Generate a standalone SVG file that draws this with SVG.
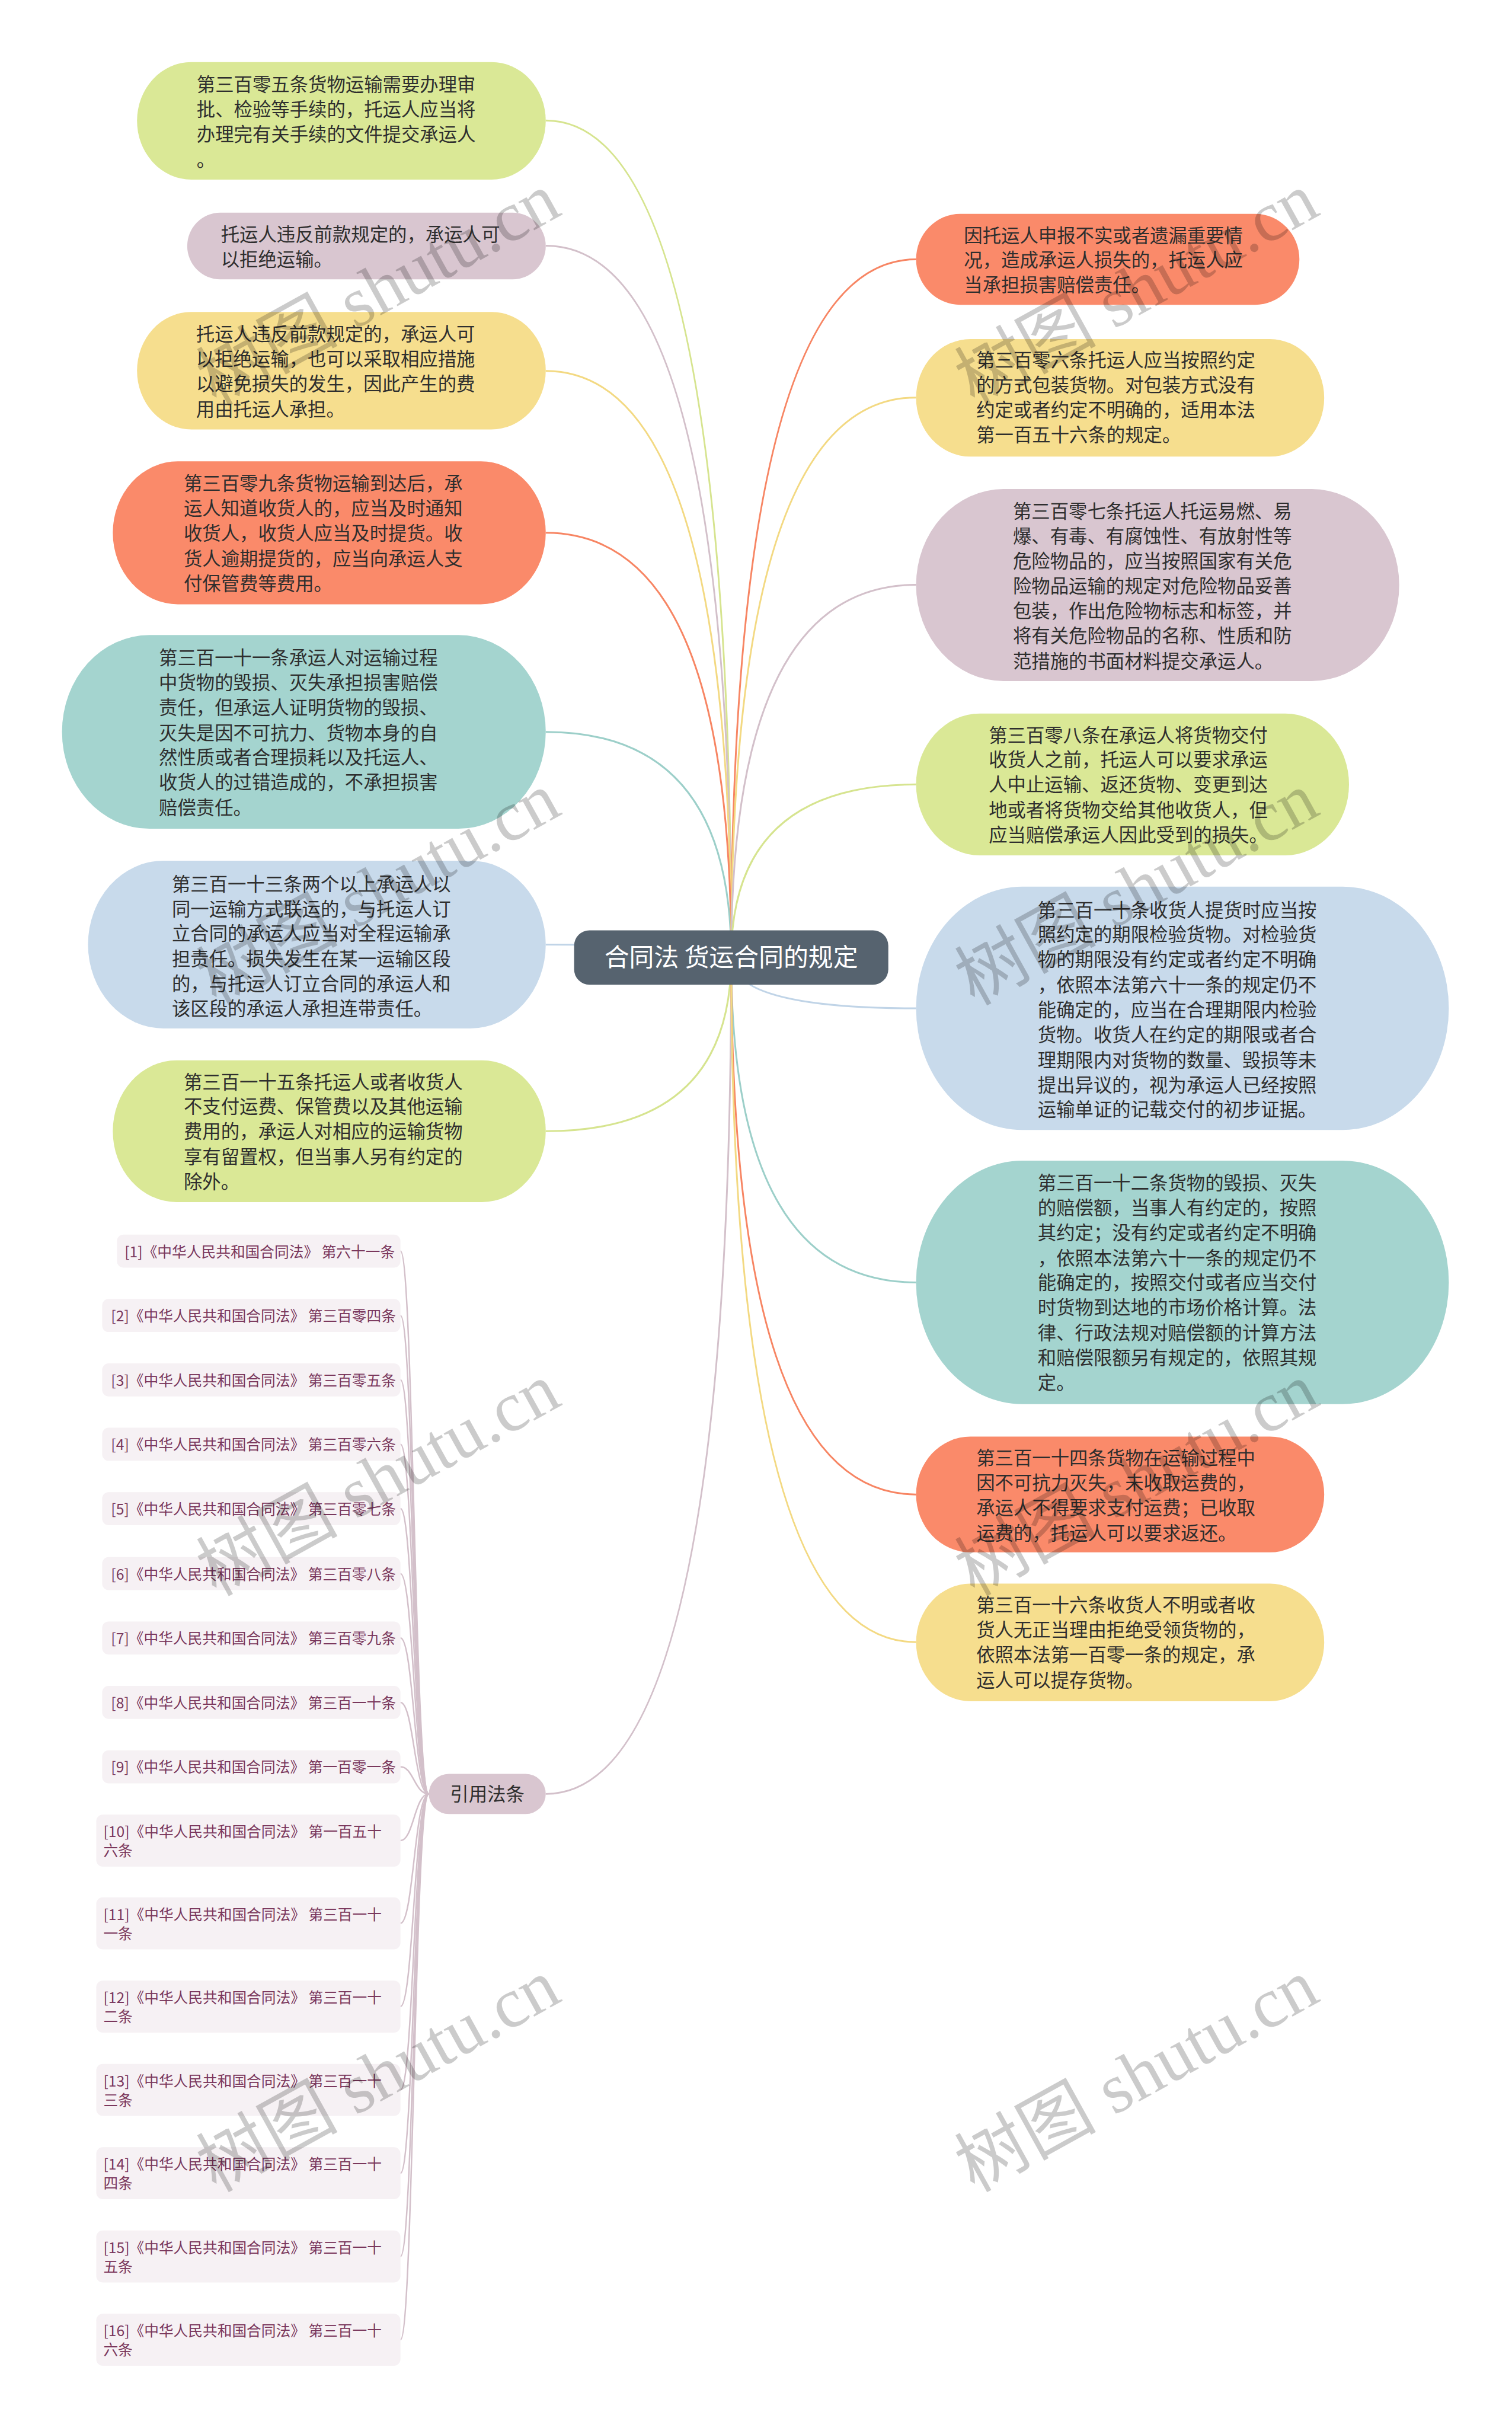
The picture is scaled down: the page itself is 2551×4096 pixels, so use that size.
<svg xmlns="http://www.w3.org/2000/svg" width="2551" height="4096" viewBox="0 0 2551 4096">
<style>
.t{font-family:"Noto Sans CJK SC","Noto Sans",sans-serif;font-size:31.5px;fill:#2e2e2e}
.r{font-family:"Noto Sans CJK SC","Noto Sans",sans-serif;font-size:24.8px;fill:#7a375c}
.c{font-family:"Noto Sans CJK SC","Noto Sans",sans-serif;font-size:42px;fill:#ffffff}
.ln{fill:none;stroke-width:3}
.green{fill:#dae896}.purple{fill:#d9c6d0}.yellow{fill:#f6de8e}.orange{fill:#fa8a6a}.teal{fill:#a4d4cf}.blue{fill:#c8daeb}
.sg{stroke:#d6e48f}.sp{stroke:#d3c0ca}.sy{stroke:#f3d982}.so{stroke:#f78563}.st{stroke:#9ccfc9}.sb{stroke:#c0d4e7}
.refbox{fill:#f6f1f4}
.wm{font-family:"Liberation Serif","Noto Sans CJK SC",serif;font-size:120px;fill:#000;opacity:0.2}
</style>
<g transform="scale(0.9965)">
<rect x="0" y="0" width="2560" height="4110" fill="#ffffff"/>
<g id="connectors">
<path class="ln sg" d="M1238 1621 Q1238 204 924 204"/>
<path class="ln sp" d="M1238 1621 Q1238 416 924 416"/>
<path class="ln sy" d="M1238 1621 Q1238 628 924 628"/>
<path class="ln so" d="M1238 1621 Q1238 902 924 902"/>
<path class="ln st" d="M1238 1621 Q1238 1239 924 1239"/>
<path class="ln sb" d="M1238 1621 Q1238 1599 924 1599"/>
<path class="ln sg" d="M1238 1621 Q1238 1915 924 1915"/>
<path class="ln sp" d="M1238 1621 Q1238 3037 924 3037"/>
<path class="ln so" d="M1238 1621 Q1238 439 1551 439"/>
<path class="ln sy" d="M1238 1621 Q1238 673 1551 673"/>
<path class="ln sp" d="M1238 1621 Q1238 990 1551 990"/>
<path class="ln sg" d="M1238 1621 Q1238 1328 1551 1328"/>
<path class="ln sb" d="M1238 1621 Q1238 1707 1551 1707"/>
<path class="ln st" d="M1238 1621 Q1238 2171 1551 2171"/>
<path class="ln so" d="M1238 1621 Q1238 2530 1551 2530"/>
<path class="ln sy" d="M1238 1621 Q1238 2780 1551 2780"/>
<g class="sp" fill="none" stroke-width="2.5">
<path d="M678 2118 C700 2118 702 3037 726 3037"/>
<path d="M678 2227 C700 2227 702 3037 726 3037"/>
<path d="M678 2336 C700 2336 702 3037 726 3037"/>
<path d="M678 2445 C700 2445 702 3037 726 3037"/>
<path d="M678 2554 C700 2554 702 3037 726 3037"/>
<path d="M678 2664 C700 2664 702 3037 726 3037"/>
<path d="M678 2773 C700 2773 702 3037 726 3037"/>
<path d="M678 2882 C700 2882 702 3037 726 3037"/>
<path d="M678 2991 C700 2991 702 3037 726 3037"/>
<path d="M678 3116 C700 3116 702 3037 726 3037"/>
<path d="M678 3256 C700 3256 702 3037 726 3037"/>
<path d="M678 3397 C700 3397 702 3037 726 3037"/>
<path d="M678 3538 C700 3538 702 3037 726 3037"/>
<path d="M678 3679 C700 3679 702 3037 726 3037"/>
<path d="M678 3820 C700 3820 702 3037 726 3037"/>
<path d="M678 3961 C700 3961 702 3037 726 3037"/>
</g>
</g>

<g id="center">
<rect x="972" y="1575" width="532" height="92" rx="26" fill="#56636f"/>
<text class="c" x="1238" y="1636" text-anchor="middle">合同法 货运合同的规定</text>
</g>

<g id="n1">
<rect class="green" x="232" y="105" width="692" height="199" rx="92" ry="99.5"/>
<text class="t"><tspan x="333" y="155">第三百零五条货物运输需要办理审</tspan><tspan x="333" y="197">批、检验等手续的，托运人应当将</tspan><tspan x="333" y="239">办理完有关手续的文件提交承运人</tspan><tspan x="333" y="282">。</tspan></text>
</g>
<g id="n2">
<rect class="purple" x="317" y="360" width="607" height="113" rx="56" ry="56.5"/>
<text class="t"><tspan x="374" y="408">托运人违反前款规定的，承运人可</tspan><tspan x="374" y="451">以拒绝运输。</tspan></text>
</g>
<g id="n3">
<rect class="yellow" x="232" y="528" width="692" height="199" rx="92" ry="99.5"/>
<text class="t"><tspan x="332" y="577">托运人违反前款规定的，承运人可</tspan><tspan x="332" y="619">以拒绝运输，也可以采取相应措施</tspan><tspan x="332" y="661">以避免损失的发生，因此产生的费</tspan><tspan x="332" y="704">用由托运人承担。</tspan></text>
</g>
<g id="n4">
<rect class="orange" x="191" y="781" width="733" height="242" rx="110" ry="121"/>
<text class="t"><tspan x="311" y="830">第三百零九条货物运输到达后，承</tspan><tspan x="311" y="872">运人知道收货人的，应当及时通知</tspan><tspan x="311" y="914">收货人，收货人应当及时提货。收</tspan><tspan x="311" y="957">货人逾期提货的，应当向承运人支</tspan><tspan x="311" y="999">付保管费等费用。</tspan></text>
</g>
<g id="n5">
<rect class="teal" x="105" y="1075" width="819" height="328" rx="148" ry="164"/>
<text class="t"><tspan x="269" y="1125">第三百一十一条承运人对运输过程</tspan><tspan x="269" y="1167">中货物的毁损、灭失承担损害赔偿</tspan><tspan x="269" y="1209">责任，但承运人证明货物的毁损、</tspan><tspan x="269" y="1252">灭失是因不可抗力、货物本身的自</tspan><tspan x="269" y="1294">然性质或者合理损耗以及托运人、</tspan><tspan x="269" y="1336">收货人的过错造成的，不承担损害</tspan><tspan x="269" y="1379">赔偿责任。</tspan></text>
</g>
<g id="n6">
<rect class="blue" x="149" y="1457" width="775" height="284" rx="128" ry="142"/>
<text class="t"><tspan x="291" y="1508">第三百一十三条两个以上承运人以</tspan><tspan x="291" y="1550">同一运输方式联运的，与托运人订</tspan><tspan x="291" y="1592">立合同的承运人应当对全程运输承</tspan><tspan x="291" y="1635">担责任。损失发生在某一运输区段</tspan><tspan x="291" y="1677">的，与托运人订立合同的承运人和</tspan><tspan x="291" y="1719">该区段的承运人承担连带责任。</tspan></text>
</g>
<g id="n7">
<rect class="green" x="191" y="1795" width="733" height="240" rx="108" ry="120"/>
<text class="t"><tspan x="311" y="1843">第三百一十五条托运人或者收货人</tspan><tspan x="311" y="1885">不支付运费、保管费以及其他运输</tspan><tspan x="311" y="1927">费用的，承运人对相应的运输货物</tspan><tspan x="311" y="1970">享有留置权，但当事人另有约定的</tspan><tspan x="311" y="2012">除外。</tspan></text>
</g>

<g id="r1">
<rect class="orange" x="1551" y="362" width="649" height="154" rx="75" ry="77"/>
<text class="t"><tspan x="1632" y="410">因托运人申报不实或者遗漏重要情</tspan><tspan x="1632" y="452">况，造成承运人损失的，托运人应</tspan><tspan x="1632" y="494">当承担损害赔偿责任。</tspan></text>
</g>
<g id="r2">
<rect class="yellow" x="1551" y="574" width="691" height="199" rx="92" ry="99.5"/>
<text class="t"><tspan x="1653" y="621">第三百零六条托运人应当按照约定</tspan><tspan x="1653" y="663">的方式包装货物。对包装方式没有</tspan><tspan x="1653" y="705">约定或者约定不明确的，适用本法</tspan><tspan x="1653" y="748">第一百五十六条的规定。</tspan></text>
</g>
<g id="r3">
<rect class="purple" x="1551" y="828" width="818" height="325" rx="148" ry="162.5"/>
<text class="t"><tspan x="1715" y="877">第三百零七条托运人托运易燃、易</tspan><tspan x="1715" y="919">爆、有毒、有腐蚀性、有放射性等</tspan><tspan x="1715" y="961">危险物品的，应当按照国家有关危</tspan><tspan x="1715" y="1004">险物品运输的规定对危险物品妥善</tspan><tspan x="1715" y="1046">包装，作出危险物标志和标签，并</tspan><tspan x="1715" y="1088">将有关危险物品的名称、性质和防</tspan><tspan x="1715" y="1131">范措施的书面材料提交承运人。</tspan></text>
</g>
<g id="r4">
<rect class="green" x="1551" y="1208" width="733" height="240" rx="108" ry="120"/>
<text class="t"><tspan x="1674" y="1256">第三百零八条在承运人将货物交付</tspan><tspan x="1674" y="1298">收货人之前，托运人可以要求承运</tspan><tspan x="1674" y="1340">人中止运输、返还货物、变更到达</tspan><tspan x="1674" y="1383">地或者将货物交给其他收货人，但</tspan><tspan x="1674" y="1425">应当赔偿承运人因此受到的损失。</tspan></text>
</g>
<g id="r5">
<rect class="blue" x="1551" y="1501" width="902" height="412" rx="180" ry="206"/>
<text class="t"><tspan x="1757" y="1552">第三百一十条收货人提货时应当按</tspan><tspan x="1757" y="1594">照约定的期限检验货物。对检验货</tspan><tspan x="1757" y="1636">物的期限没有约定或者约定不明确</tspan><tspan x="1757" y="1679">，依照本法第六十一条的规定仍不</tspan><tspan x="1757" y="1721">能确定的，应当在合理期限内检验</tspan><tspan x="1757" y="1763">货物。收货人在约定的期限或者合</tspan><tspan x="1757" y="1806">理期限内对货物的数量、毁损等未</tspan><tspan x="1757" y="1848">提出异议的，视为承运人已经按照</tspan><tspan x="1757" y="1890">运输单证的记载交付的初步证据。</tspan></text>
</g>
<g id="r6">
<rect class="teal" x="1551" y="1965" width="902" height="412" rx="180" ry="206"/>
<text class="t"><tspan x="1757" y="2014">第三百一十二条货物的毁损、灭失</tspan><tspan x="1757" y="2056">的赔偿额，当事人有约定的，按照</tspan><tspan x="1757" y="2098">其约定；没有约定或者约定不明确</tspan><tspan x="1757" y="2141">，依照本法第六十一条的规定仍不</tspan><tspan x="1757" y="2183">能确定的，按照交付或者应当交付</tspan><tspan x="1757" y="2225">时货物到达地的市场价格计算。法</tspan><tspan x="1757" y="2268">律、行政法规对赔偿额的计算方法</tspan><tspan x="1757" y="2310">和赔偿限额另有规定的，依照其规</tspan><tspan x="1757" y="2352">定。</tspan></text>
</g>
<g id="r7">
<rect class="orange" x="1551" y="2432" width="691" height="196" rx="92" ry="98"/>
<text class="t"><tspan x="1653" y="2480">第三百一十四条货物在运输过程中</tspan><tspan x="1653" y="2522">因不可抗力灭失，未收取运费的，</tspan><tspan x="1653" y="2564">承运人不得要求支付运费；已收取</tspan><tspan x="1653" y="2607">运费的，托运人可以要求返还。</tspan></text>
</g>
<g id="r8">
<rect class="yellow" x="1551" y="2681" width="691" height="199" rx="92" ry="99.5"/>
<text class="t"><tspan x="1653" y="2729">第三百一十六条收货人不明或者收</tspan><tspan x="1653" y="2771">货人无正当理由拒绝受领货物的，</tspan><tspan x="1653" y="2813">依照本法第一百零一条的规定，承</tspan><tspan x="1653" y="2856">运人可以提存货物。</tspan></text>
</g>

<g id="refs-title">
<rect class="purple" x="726" y="3003" width="198" height="68" rx="34"/>
<text class="t" x="825" y="3049" text-anchor="middle">引用法条</text>
</g>

<g id="ref1"><rect class="refbox" x="198" y="2090" width="480" height="56" rx="11"/><text class="r" x="211" y="2128">[1]《中华人民共和国合同法》 第六十一条</text></g>
<g id="ref2"><rect class="refbox" x="173" y="2199" width="505" height="56" rx="11"/><text class="r" x="188" y="2237">[2]《中华人民共和国合同法》 第三百零四条</text></g>
<g id="ref3"><rect class="refbox" x="173" y="2308" width="505" height="56" rx="11"/><text class="r" x="188" y="2346">[3]《中华人民共和国合同法》 第三百零五条</text></g>
<g id="ref4"><rect class="refbox" x="173" y="2417" width="505" height="56" rx="11"/><text class="r" x="188" y="2455">[4]《中华人民共和国合同法》 第三百零六条</text></g>
<g id="ref5"><rect class="refbox" x="173" y="2526" width="505" height="56" rx="11"/><text class="r" x="188" y="2564">[5]《中华人民共和国合同法》 第三百零七条</text></g>
<g id="ref6"><rect class="refbox" x="173" y="2636" width="505" height="56" rx="11"/><text class="r" x="188" y="2674">[6]《中华人民共和国合同法》 第三百零八条</text></g>
<g id="ref7"><rect class="refbox" x="173" y="2745" width="505" height="56" rx="11"/><text class="r" x="188" y="2783">[7]《中华人民共和国合同法》 第三百零九条</text></g>
<g id="ref8"><rect class="refbox" x="173" y="2854" width="505" height="56" rx="11"/><text class="r" x="188" y="2892">[8]《中华人民共和国合同法》 第三百一十条</text></g>
<g id="ref9"><rect class="refbox" x="173" y="2963" width="505" height="56" rx="11"/><text class="r" x="188" y="3001">[9]《中华人民共和国合同法》 第一百零一条</text></g>
<g id="ref10"><rect class="refbox" x="163" y="3072" width="515" height="88" rx="11"/><text class="r"><tspan x="175" y="3110">[10]《中华人民共和国合同法》 第一百五十</tspan><tspan x="175" y="3142">六条</tspan></text></g>
<g id="ref11"><rect class="refbox" x="163" y="3212" width="515" height="88" rx="11"/><text class="r"><tspan x="175" y="3250">[11]《中华人民共和国合同法》 第三百一十</tspan><tspan x="175" y="3282">一条</tspan></text></g>
<g id="ref12"><rect class="refbox" x="163" y="3353" width="515" height="88" rx="11"/><text class="r"><tspan x="175" y="3391">[12]《中华人民共和国合同法》 第三百一十</tspan><tspan x="175" y="3423">二条</tspan></text></g>
<g id="ref13"><rect class="refbox" x="163" y="3494" width="515" height="88" rx="11"/><text class="r"><tspan x="175" y="3532">[13]《中华人民共和国合同法》 第三百一十</tspan><tspan x="175" y="3564">三条</tspan></text></g>
<g id="ref14"><rect class="refbox" x="163" y="3635" width="515" height="88" rx="11"/><text class="r"><tspan x="175" y="3673">[14]《中华人民共和国合同法》 第三百一十</tspan><tspan x="175" y="3705">四条</tspan></text></g>
<g id="ref15"><rect class="refbox" x="163" y="3776" width="515" height="88" rx="11"/><text class="r"><tspan x="175" y="3814">[15]《中华人民共和国合同法》 第三百一十</tspan><tspan x="175" y="3846">五条</tspan></text></g>
<g id="ref16"><rect class="refbox" x="163" y="3917" width="515" height="88" rx="11"/><text class="r"><tspan x="175" y="3955">[16]《中华人民共和国合同法》 第三百一十</tspan><tspan x="175" y="3987">六条</tspan></text></g>

<g id="watermarks">
<text class="wm" x="642" y="530" text-anchor="middle" transform="rotate(-29 642 493)">树图 shutu.cn</text>
<text class="wm" x="1926" y="530" text-anchor="middle" transform="rotate(-29 1926 493)">树图 shutu.cn</text>
<text class="wm" x="642" y="1545" text-anchor="middle" transform="rotate(-29 642 1508)">树图 shutu.cn</text>
<text class="wm" x="1926" y="1545" text-anchor="middle" transform="rotate(-29 1926 1508)">树图 shutu.cn</text>
<text class="wm" x="642" y="2545" text-anchor="middle" transform="rotate(-29 642 2508)">树图 shutu.cn</text>
<text class="wm" x="1926" y="2545" text-anchor="middle" transform="rotate(-29 1926 2508)">树图 shutu.cn</text>
<text class="wm" x="642" y="3554" text-anchor="middle" transform="rotate(-29 642 3517)">树图 shutu.cn</text>
<text class="wm" x="1926" y="3554" text-anchor="middle" transform="rotate(-29 1926 3517)">树图 shutu.cn</text>
</g>
</g>
</svg>
